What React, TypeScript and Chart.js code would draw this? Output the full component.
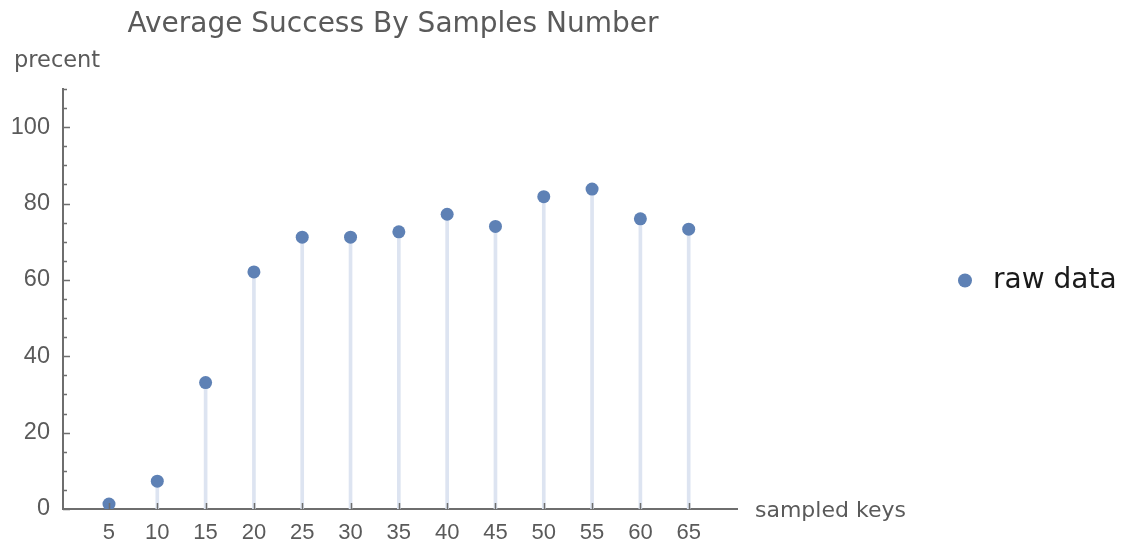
import React, { useEffect, useRef } from "react";
import { Chart, registerables } from "chart.js";

Chart.register(...registerables);

const sampleCounts = [5, 10, 15, 20, 25, 30, 35, 40, 45, 50, 55, 60, 65];
const successPercent = [1.3, 7.3, 33.1, 62.1, 71.2, 71.2, 72.6, 77.2, 74.0, 81.8, 83.8, 76.0, 73.3];
const xTickValues = [5, 10, 15, 20, 25, 30, 35, 40, 45, 50, 55, 60, 65];
const yTickValues = [0, 20, 40, 60, 80, 100];
const yMinorTickValues = [5, 10, 15, 25, 30, 35, 45, 50, 55, 65, 70, 75, 85, 90, 95, 105, 110];

const titleText = "Average Success By Samples Number";
const yAxisLabel = "precent";
const xAxisLabel = "sampled keys";
const legendLabel = "raw data";

const POINT_COLOR = "#5E81B5";
const STEM_COLOR = "#dde4f1";
const AXIS_COLOR = "#6e6e6e";
const TEXT_GRAY = "#5a5a5a";

const decorPlugin = {
  id: "decor",
  afterDraw(chart: any) {
    const ctx = chart.ctx as CanvasRenderingContext2D;
    const xs = chart.scales.x;
    const ys = chart.scales.y;
    const area = chart.chartArea;
    ctx.save();
    // inward tick marks
    ctx.strokeStyle = AXIS_COLOR;
    ctx.lineWidth = 1.5;
    ctx.beginPath();
    for (const v of yTickValues) {
      const py = Math.round(ys.getPixelForValue(v)) + 0.5;
      ctx.moveTo(area.left, py);
      ctx.lineTo(area.left + 7, py);
    }
    for (const v of yMinorTickValues) {
      const py = Math.round(ys.getPixelForValue(v)) + 0.5;
      ctx.moveTo(area.left, py);
      ctx.lineTo(area.left + 4, py);
    }
    for (const v of xTickValues) {
      const px = Math.round(xs.getPixelForValue(v)) + 0.5;
      ctx.moveTo(px, area.bottom);
      ctx.lineTo(px, area.bottom - 6);
    }
    ctx.stroke();

    // title
    ctx.fillStyle = TEXT_GRAY;
    ctx.font = '28px "DejaVu Sans"';
    ctx.textAlign = "center";
    ctx.textBaseline = "alphabetic";
    ctx.fillText(titleText, 393, 31.5);

    // axis labels
    ctx.font = '22.5px "DejaVu Sans"';
    ctx.textAlign = "left";
    ctx.fillText(yAxisLabel, 14, 66.5);
    ctx.font = '22px "DejaVu Sans"';
    ctx.fillText(xAxisLabel, 755, 516.5);

    // legend
    ctx.fillStyle = POINT_COLOR;
    ctx.beginPath();
    ctx.arc(965, 280.5, 7, 0, Math.PI * 2);
    ctx.fill();
    ctx.fillStyle = "#1a1a1a";
    ctx.font = '28px "DejaVu Sans"';
    ctx.fillText(legendLabel, 993, 288);
    ctx.restore();
  },
};

export default function App() {
  const canvasRef = useRef<HTMLCanvasElement | null>(null);

  useEffect(() => {
    document.body.style.margin = "0";
    const canvas = canvasRef.current;
    if (!canvas) return;
    const points = sampleCounts.map((x, i) => ({ x, y: successPercent[i] }));
    const chart = new Chart(canvas, {
      type: "scatter",
      data: {
        datasets: [
          {
            type: "scatter",
            label: legendLabel,
            data: points,
            backgroundColor: POINT_COLOR,
            borderColor: POINT_COLOR,
            pointRadius: 6.5,
            pointBorderWidth: 0,
            order: 0,
          } as any,
          {
            type: "bar",
            label: "stems",
            data: points,
            backgroundColor: STEM_COLOR,
            borderWidth: 0,
            barThickness: 3,
            order: 1,
          } as any,
        ],
      },
      options: {
        animation: false,
        responsive: true,
        maintainAspectRatio: false,
        events: [],
        layout: { padding: { top: 89, right: 386, left: 0, bottom: 0 } },
        plugins: {
          legend: { display: false },
          title: { display: false },
          tooltip: { enabled: false },
        },
        scales: {
          x: {
            type: "linear",
            min: 0.24,
            max: 70,
            offset: false,
            grid: { display: false, drawTicks: false },
            border: { display: true, color: AXIS_COLOR, width: 2 },
            afterBuildTicks: (scale: any) => {
              scale.ticks = xTickValues.map((v) => ({ value: v }));
            },
            afterFit: (scale: any) => {
              scale.height = 35;
            },
            ticks: {
              autoSkip: false,
              maxRotation: 0,
              padding: 11,
              color: TEXT_GRAY,
              font: { family: '"Liberation Sans"', size: 22 },
              callback: (v: any) => String(v),
            },
          },
          y: {
            type: "linear",
            min: 0,
            max: 110,
            grid: { display: false, drawTicks: false },
            border: { display: true, color: AXIS_COLOR, width: 2 },
            afterBuildTicks: (scale: any) => {
              scale.ticks = yTickValues.map((v) => ({ value: v }));
            },
            afterFit: (scale: any) => {
              scale.width = 63;
            },
            ticks: {
              autoSkip: false,
              padding: 13,
              color: TEXT_GRAY,
              font: { family: '"Liberation Sans"', size: 23.5 },
              callback: (v: any) => String(v),
            },
          },
        },
      },
      plugins: [decorPlugin],
    });
    return () => chart.destroy();
  }, []);

  return (
    <div style={{ position: "relative", width: 1123, height: 544 }}>
      <canvas ref={canvasRef} />
    </div>
  );
}
